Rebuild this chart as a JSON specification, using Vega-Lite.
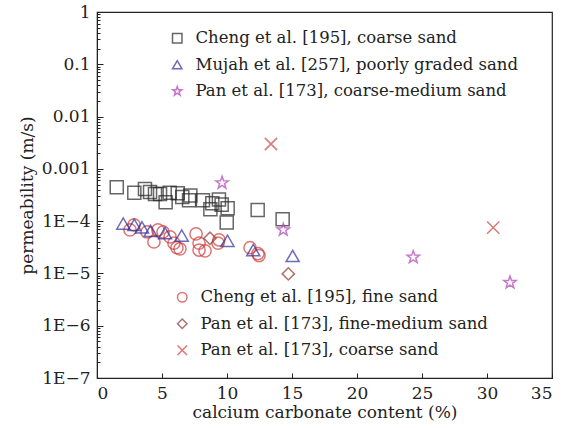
{
  "$schema": "https://vega.github.io/schema/vega-lite/v6.json",
  "width": 455,
  "height": 366,
  "autosize": "none",
  "padding": {"left": 97, "top": 12, "right": 23, "bottom": 50},
  "background": "white",
  "config": {
    "font": "DejaVu Serif",
    "view": {"stroke": "#222", "strokeWidth": 1.2},
    "axis": {"grid": false, "domainColor": "#222", "tickColor": "#222", "labelColor": "#222", "titleColor": "#222", "labelFont": "DejaVu Serif", "titleFont": "DejaVu Serif", "labelFontSize": 17, "titleFontSize": 17, "titleFontWeight": "normal"},
    "legend": {"labelFont": "DejaVu Serif", "labelFontSize": 16.5, "labelColor": "#222", "labelLimit": 500}
  },
  "data": {"values": [
    {"series": "Cheng et al. [195], coarse sand", "x": 1.52, "k": 4.45e-4},
    {"series": "Cheng et al. [195], coarse sand", "x": 2.87, "k": 3.5e-4},
    {"series": "Cheng et al. [195], coarse sand", "x": 3.69, "k": 4.1e-4},
    {"series": "Cheng et al. [195], coarse sand", "x": 4.08, "k": 3.6e-4},
    {"series": "Cheng et al. [195], coarse sand", "x": 4.46, "k": 3.3e-4},
    {"series": "Cheng et al. [195], coarse sand", "x": 4.85, "k": 3.3e-4},
    {"series": "Cheng et al. [195], coarse sand", "x": 5.28, "k": 2.3e-4},
    {"series": "Cheng et al. [195], coarse sand", "x": 5.59, "k": 3.5e-4},
    {"series": "Cheng et al. [195], coarse sand", "x": 6.21, "k": 3.4e-4},
    {"series": "Cheng et al. [195], coarse sand", "x": 6.56, "k": 2.9e-4},
    {"series": "Cheng et al. [195], coarse sand", "x": 7.18, "k": 3.1e-4},
    {"series": "Cheng et al. [195], coarse sand", "x": 7.08, "k": 2.5e-4},
    {"series": "Cheng et al. [195], coarse sand", "x": 8.15, "k": 2.5e-4},
    {"series": "Cheng et al. [195], coarse sand", "x": 8.87, "k": 2.2e-4},
    {"series": "Cheng et al. [195], coarse sand", "x": 9.38, "k": 2.6e-4},
    {"series": "Cheng et al. [195], coarse sand", "x": 9.59, "k": 2.07e-4},
    {"series": "Cheng et al. [195], coarse sand", "x": 10.05, "k": 1.77e-4},
    {"series": "Cheng et al. [195], coarse sand", "x": 8.72, "k": 1.69e-4},
    {"series": "Cheng et al. [195], coarse sand", "x": 9.98, "k": 9.4e-5},
    {"series": "Cheng et al. [195], coarse sand", "x": 12.36, "k": 1.64e-4},
    {"series": "Cheng et al. [195], coarse sand", "x": 14.28, "k": 1.09e-4},
    {"series": "Mujah et al. [257], poorly graded sand", "x": 2.02, "k": 9.0e-5},
    {"series": "Mujah et al. [257], poorly graded sand", "x": 2.87, "k": 8.5e-5},
    {"series": "Mujah et al. [257], poorly graded sand", "x": 3.46, "k": 7.6e-5},
    {"series": "Mujah et al. [257], poorly graded sand", "x": 4.12, "k": 6.5e-5},
    {"series": "Mujah et al. [257], poorly graded sand", "x": 5.23, "k": 5.9e-5},
    {"series": "Mujah et al. [257], poorly graded sand", "x": 6.52, "k": 5.3e-5},
    {"series": "Mujah et al. [257], poorly graded sand", "x": 10.04, "k": 4.2e-5},
    {"series": "Mujah et al. [257], poorly graded sand", "x": 12.02, "k": 2.8e-5},
    {"series": "Mujah et al. [257], poorly graded sand", "x": 15.05, "k": 2.16e-5},
    {"series": "Pan et al. [173], coarse-medium sand", "x": 9.62, "k": 5.4e-4},
    {"series": "Pan et al. [173], coarse-medium sand", "x": 14.33, "k": 6.8e-5},
    {"series": "Pan et al. [173], coarse-medium sand", "x": 24.33, "k": 2.04e-5},
    {"series": "Pan et al. [173], coarse-medium sand", "x": 31.77, "k": 6.7e-6},
    {"series": "Cheng et al. [195], fine sand", "x": 2.54, "k": 6.8e-5},
    {"series": "Cheng et al. [195], fine sand", "x": 2.85, "k": 8.5e-5},
    {"series": "Cheng et al. [195], fine sand", "x": 3.85, "k": 6.2e-5},
    {"series": "Cheng et al. [195], fine sand", "x": 4.38, "k": 4.0e-5},
    {"series": "Cheng et al. [195], fine sand", "x": 4.69, "k": 6.8e-5},
    {"series": "Cheng et al. [195], fine sand", "x": 5.08, "k": 6.2e-5},
    {"series": "Cheng et al. [195], fine sand", "x": 5.62, "k": 5.0e-5},
    {"series": "Cheng et al. [195], fine sand", "x": 5.92, "k": 3.8e-5},
    {"series": "Cheng et al. [195], fine sand", "x": 6.15, "k": 3.1e-5},
    {"series": "Cheng et al. [195], fine sand", "x": 6.38, "k": 2.95e-5},
    {"series": "Cheng et al. [195], fine sand", "x": 7.62, "k": 5.7e-5},
    {"series": "Cheng et al. [195], fine sand", "x": 7.85, "k": 3.8e-5},
    {"series": "Cheng et al. [195], fine sand", "x": 7.85, "k": 2.8e-5},
    {"series": "Cheng et al. [195], fine sand", "x": 8.31, "k": 2.7e-5},
    {"series": "Cheng et al. [195], fine sand", "x": 9.38, "k": 4.4e-5},
    {"series": "Cheng et al. [195], fine sand", "x": 9.31, "k": 3.8e-5},
    {"series": "Cheng et al. [195], fine sand", "x": 11.77, "k": 3.1e-5},
    {"series": "Cheng et al. [195], fine sand", "x": 12.38, "k": 2.4e-5},
    {"series": "Cheng et al. [195], fine sand", "x": 12.46, "k": 2.2e-5},
    {"series": "Pan et al. [173], fine-medium sand", "x": 8.69, "k": 4.7e-5},
    {"series": "Pan et al. [173], fine-medium sand", "x": 14.72, "k": 9.8e-6},
    {"series": "Pan et al. [173], coarse sand", "x": 13.38, "k": 2.99e-3},
    {"series": "Pan et al. [173], coarse sand", "x": 30.48, "k": 7.5e-5}
  ]},
  "encoding": {
    "x": {"field": "x", "type": "quantitative", "scale": {"domain": [0, 35], "nice": false},
      "axis": {"title": "calcium carbonate content (%)", "values": [0, 5, 10, 15, 20, 25, 30, 35], "tickSize": -5, "labelPadding": 12, "titlePadding": 3}},
    "y": {"field": "k", "type": "quantitative", "scale": {"type": "log", "domain": [1e-7, 1], "nice": false},
      "axis": {"title": "permeability (m/s)", "titlePadding": 5,
        "values": [1e-7,2e-7,3e-7,4e-7,5e-7,6e-7,7e-7,8e-7,9e-7,1e-6,2e-6,3e-6,4e-6,5e-6,6e-6,7e-6,8e-6,9e-6,1e-5,2e-5,3e-5,4e-5,5e-5,6e-5,7e-5,8e-5,9e-5,1e-4,2e-4,3e-4,4e-4,5e-4,6e-4,7e-4,8e-4,9e-4,1e-3,2e-3,3e-3,4e-3,5e-3,6e-3,7e-3,8e-3,9e-3,1e-2,2e-2,3e-2,4e-2,5e-2,6e-2,7e-2,8e-2,9e-2,0.1,0.2,0.3,0.4,0.5,0.6,0.7,0.8,0.9,1],
        "labelExpr": "abs(log(datum.value)/LN10 - round(log(datum.value)/LN10)) > 0.001 ? '' : (datum.value >= 0.0009 ? format(datum.value, '~g') : '1E\u2212' + (-round(log(datum.value)/LN10)))",
        "tickSize": {"condition": {"test": "abs(log(datum.value)/LN10 - round(log(datum.value)/LN10)) > 0.001", "value": -3}, "value": -6},
        "labelPadding": 13, "labelOverlap": false}}
  },
  "layer": [
    {
      "transform": [{"filter": "indexof(['Cheng et al. [195], fine sand','Pan et al. [173], fine-medium sand','Pan et al. [173], coarse sand'], datum.series) >= 0"}],
      "mark": {"type": "point", "filled": false, "strokeWidth": 1.5, "size": 150},
      "encoding": {
        "shape": {"field": "series", "type": "nominal",
          "scale": {"domain": ["Cheng et al. [195], fine sand", "Pan et al. [173], fine-medium sand", "Pan et al. [173], coarse sand"], "range": ["circle", "diamond", "M-1,-1L1,1M1,-1L-1,1"]},
          "legend": {"title": null, "orient": "none", "legendX": 77, "legendY": 277, "symbolSize": 90, "symbolStrokeWidth": 1.5, "labelOffset": 10, "rowPadding": 9.5}},
        "color": {"field": "series", "type": "nominal",
          "scale": {"domain": ["Cheng et al. [195], fine sand", "Pan et al. [173], fine-medium sand", "Pan et al. [173], coarse sand"], "range": ["#d03c3c", "#8b3a30", "#cc3f3f"]},
          "legend": {"title": null, "orient": "none", "legendX": 77, "legendY": 277, "symbolSize": 90, "symbolStrokeWidth": 1.5, "labelOffset": 10, "rowPadding": 9.5}}
      }
    },
    {
      "transform": [{"filter": "indexof(['Cheng et al. [195], coarse sand','Mujah et al. [257], poorly graded sand','Pan et al. [173], coarse-medium sand'], datum.series) >= 0"}],
      "mark": {"type": "point", "filled": false, "strokeWidth": 1.5, "size": 170},
      "encoding": {
        "shape": {"field": "series", "type": "nominal",
          "scale": {"domain": ["Cheng et al. [195], coarse sand", "Mujah et al. [257], poorly graded sand", "Pan et al. [173], coarse-medium sand"], "range": ["square", "triangle-up", "M0,-1L0.235,-0.324L0.951,-0.309L0.38,0.124L0.588,0.809L0,0.4L-0.588,0.809L-0.38,0.124L-0.951,-0.309L-0.235,-0.324Z"]},
          "legend": {"title": null, "orient": "none", "legendX": 72, "legendY": 18, "symbolSize": 90, "symbolStrokeWidth": 1.5, "labelOffset": 10, "rowPadding": 9.5}},
        "color": {"field": "series", "type": "nominal",
          "scale": {"domain": ["Cheng et al. [195], coarse sand", "Mujah et al. [257], poorly graded sand", "Pan et al. [173], coarse-medium sand"], "range": ["#262626", "#2e2e9e", "#b040b4"]},
          "legend": {"title": null, "orient": "none", "legendX": 72, "legendY": 18, "symbolSize": 90, "symbolStrokeWidth": 1.5, "labelOffset": 10, "rowPadding": 9.5}}
      }
    }
  ],
  "resolve": {"scale": {"color": "independent", "shape": "independent"}, "legend": {"color": "independent", "shape": "independent"}}
}
